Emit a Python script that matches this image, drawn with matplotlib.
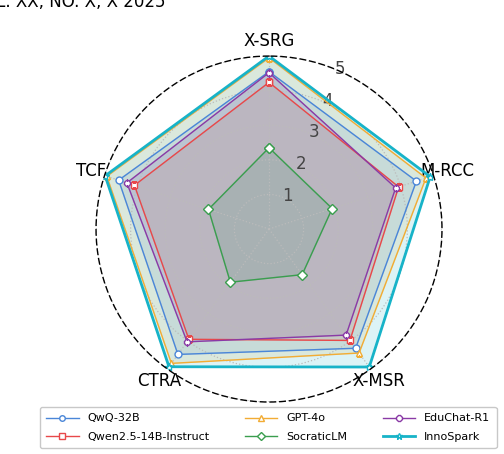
import numpy as np
import matplotlib
matplotlib.use("Agg")
import matplotlib.pyplot as plt
from matplotlib.transforms import ScaledTranslation

# --Data--
dims = ["X-SRG", "M-RCC", "X-MSR", "CTRA", "TCF"]
models = ["QwQ-32B", "Qwen2.5-14B-Instruct", "GPT-4o", "SocraticLM", "EduChat-R1", "InnoSpark"]
qwq = [4.55, 4.48, 4.26, 4.48, 4.57]
qwen = [4.24, 3.94, 3.98, 3.94, 4.09]
gpt4o = [4.95, 4.77, 4.43, 4.80, 4.93]
socratic = [2.35, 1.92, 1.63, 1.90, 1.84]
educhat = [4.52, 3.85, 3.79, 4.03, 4.32]
innospark = [5.00, 4.90, 4.93, 4.92, 4.98]

series = [qwq, qwen, gpt4o, socratic, educhat, innospark]
colors = ["#4a86d8", "#e8484a", "#f2ac34", "#3a9e4e", "#8a3aa6", "#17b3c8"]
markers = ["o", "s", "^", "D", "8", "*"]

# --Plotting--
fig = plt.figure(figsize=(5.04, 4.54), dpi=100)
ax = fig.add_axes([0.1905, 0.1145, 0.6865, 0.762], projection="polar")
ax.set_theta_offset(np.pi / 2)
ax.set_theta_direction(-1)

angles = np.linspace(0, 2 * np.pi, len(dims), endpoint=False)
closed = np.concatenate([angles, angles[:1]])

for vals, name, c, m in zip(series, models, colors, markers):
    v = vals + vals[:1]
    lw = 2.0 if name == "InnoSpark" else 1.0
    ax.plot(closed, v, color=c, linewidth=lw, marker=m, markersize=5 if m != "*" else 6,
            markerfacecolor="white", markeredgecolor=c, markeredgewidth=1.0, label=name)
    ax.fill(closed, v, color=c, alpha=0.15)

ax.set_ylim(0, 5)
ax.set_yticks([1, 2, 3, 4, 5])
ax.set_yticklabels(["1", "2", "3", "4", "5"], fontsize=12, color="#444444")
ax.set_rlabel_position(22.5)
# nudge radial labels down a bit
shift = ScaledTranslation(0, -6 / 72, fig.dpi_scale_trans)
for lab in ax.get_yticklabels():
    lab.set_transform(lab.get_transform() + shift)
ax.set_xticks(angles)
ax.set_xticklabels(dims, fontsize=12)
ax.tick_params(axis="x", pad=0)
ax.grid(color="#bbbbbb", linestyle=":", linewidth=0.9)
ax.spines["polar"].set_linestyle((0, (4, 3)))
ax.spines["polar"].set_linewidth(1.0)

leg = fig.legend(loc="lower center", bbox_to_anchor=(0.532, 0.0), ncol=3, fontsize=8,
                 frameon=True, fancybox=True, edgecolor="#bbbbbb",
                 handlelength=2.9, columnspacing=3.2, borderpad=0.6, labelspacing=0.75,
                 markerscale=0.8)

fig.text(-0.055, 0.995, "VOL. XX, NO. X, X 2025", fontsize=12, va="center", ha="left")

fig.savefig("out.png", dpi=100)
